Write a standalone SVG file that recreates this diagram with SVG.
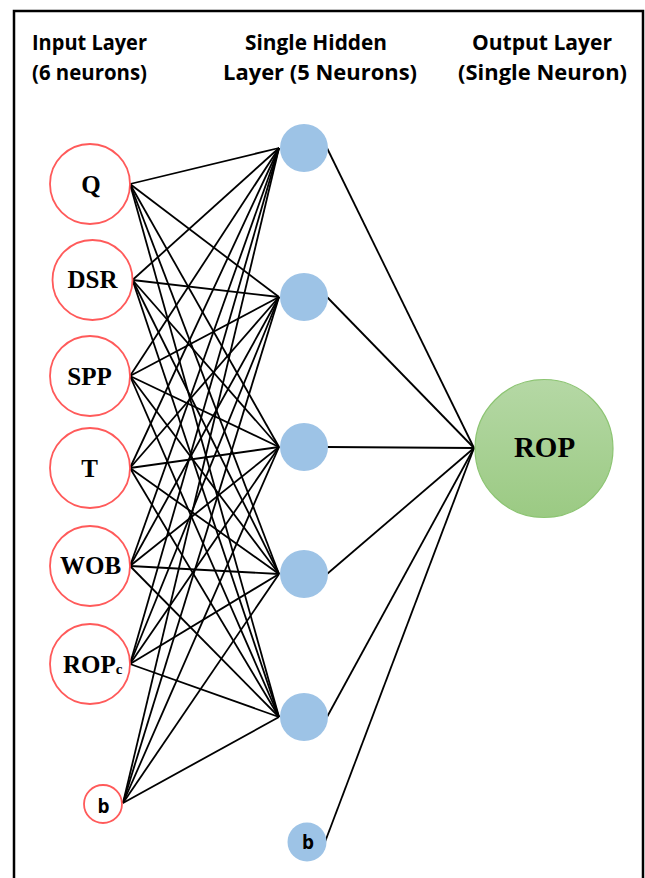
<svg xmlns="http://www.w3.org/2000/svg" width="645" height="878" viewBox="0 0 645 878">
<style>
.hdr{font-family:"Open Sans","Liberation Sans",sans-serif;font-weight:bold;font-size:21px;fill:#000}
.inp{fill:#fff;stroke:#ff5a5a;stroke-width:1.8}
.hid{fill:#9dc3e6}
.lbl{font-family:"Liberation Serif","Times New Roman",serif;font-weight:bold;font-size:25px;fill:#000;text-anchor:middle}
.blbl{font-family:"Open Sans","Liberation Sans",sans-serif;font-weight:bold;font-size:19px;fill:#000;text-anchor:middle}
.conn line{stroke:#000;stroke-width:1.8}
</style>
<defs>
<linearGradient id="gOut" x1="0" y1="0" x2="0" y2="1">
<stop offset="0" stop-color="#b5d8a5"/>
<stop offset="1" stop-color="#9bca83"/>
</linearGradient>
</defs>
<rect width="645" height="878" fill="#fff"/>
<path d="M14,878 V11 H643 V878" fill="none" stroke="#000" stroke-width="2.5"/>
<g id="headers">
<text class="hdr" x="32" y="50" textLength="115" lengthAdjust="spacingAndGlyphs">Input Layer</text>
<text class="hdr" x="32" y="80" textLength="115" lengthAdjust="spacingAndGlyphs">(6 neurons)</text>
<text class="hdr" x="245" y="50" textLength="142" lengthAdjust="spacingAndGlyphs">Single Hidden</text>
<text class="hdr" x="223" y="80" textLength="194" lengthAdjust="spacingAndGlyphs">Layer (5 Neurons)</text>
<text class="hdr" x="472" y="50" textLength="140" lengthAdjust="spacingAndGlyphs">Output Layer</text>
<text class="hdr" x="458" y="80" textLength="169" lengthAdjust="spacingAndGlyphs">(Single Neuron)</text>
</g>
<g id="connectors" class="conn">
<line x1="130" y1="184" x2="279" y2="148"/><line x1="130" y1="184" x2="279" y2="297"/><line x1="130" y1="184" x2="279" y2="447"/><line x1="130" y1="184" x2="279" y2="574"/><line x1="130" y1="184" x2="279" y2="717"/>
<line x1="132.5" y1="280" x2="279" y2="148"/><line x1="132.5" y1="280" x2="279" y2="297"/><line x1="132.5" y1="280" x2="279" y2="447"/><line x1="132.5" y1="280" x2="279" y2="574"/><line x1="132.5" y1="280" x2="279" y2="717"/>
<line x1="130" y1="376" x2="279" y2="148"/><line x1="130" y1="376" x2="279" y2="297"/><line x1="130" y1="376" x2="279" y2="447"/><line x1="130" y1="376" x2="279" y2="574"/><line x1="130" y1="376" x2="279" y2="717"/>
<line x1="130" y1="468" x2="279" y2="148"/><line x1="130" y1="468" x2="279" y2="297"/><line x1="130" y1="468" x2="279" y2="447"/><line x1="130" y1="468" x2="279" y2="574"/><line x1="130" y1="468" x2="279" y2="717"/>
<line x1="130" y1="566" x2="279" y2="148"/><line x1="130" y1="566" x2="279" y2="297"/><line x1="130" y1="566" x2="279" y2="447"/><line x1="130" y1="566" x2="279" y2="574"/><line x1="130" y1="566" x2="279" y2="717"/>
<line x1="130" y1="664" x2="279" y2="148"/><line x1="130" y1="664" x2="279" y2="297"/><line x1="130" y1="664" x2="279" y2="447"/><line x1="130" y1="664" x2="279" y2="574"/><line x1="130" y1="664" x2="279" y2="717"/>
<line x1="123" y1="803" x2="279" y2="148"/><line x1="123" y1="803" x2="279" y2="297"/><line x1="123" y1="803" x2="279" y2="447"/><line x1="123" y1="803" x2="279" y2="574"/><line x1="123" y1="803" x2="279" y2="717"/>
<line x1="327" y1="148" x2="474" y2="448"/><line x1="327" y1="297" x2="474" y2="448"/><line x1="327" y1="447" x2="474" y2="448"/><line x1="327" y1="574" x2="474" y2="448"/><line x1="327" y1="717" x2="474" y2="448"/><line x1="325" y1="842" x2="474" y2="448"/>
</g>
<g id="in-Q"><circle class="inp" cx="90" cy="184" r="40"/><text class="lbl" x="91" y="193">Q</text></g>
<g id="in-DSR"><circle class="inp" cx="92.5" cy="280" r="40"/><text class="lbl" x="92.5" y="288">DSR</text></g>
<g id="in-SPP"><circle class="inp" cx="90" cy="376" r="40"/><text class="lbl" x="89.5" y="385">SPP</text></g>
<g id="in-T"><circle class="inp" cx="90" cy="468" r="40"/><text class="lbl" x="89.5" y="477">T</text></g>
<g id="in-WOB"><circle class="inp" cx="90" cy="566" r="40"/><text class="lbl" x="90.5" y="574">WOB</text></g>
<g id="in-ROPc"><circle class="inp" cx="90" cy="664" r="40"/><text class="lbl" x="63" y="673" style="text-anchor:start">ROP<tspan font-size="15" dy="1">c</tspan></text></g>
<g id="in-bias"><circle class="inp" cx="103" cy="804" r="19"/><text class="blbl" x="103.5" y="813">b</text></g>
<g id="h1"><circle class="hid" cx="304" cy="148" r="24"/></g>
<g id="h2"><circle class="hid" cx="304" cy="297" r="24"/></g>
<g id="h3"><circle class="hid" cx="304" cy="447" r="24"/></g>
<g id="h4"><circle class="hid" cx="304" cy="574" r="24"/></g>
<g id="h5"><circle class="hid" cx="304" cy="717" r="24"/></g>
<g id="h-bias"><circle class="hid" cx="307" cy="842" r="19.5"/><text class="blbl" x="308" y="849">b</text></g>
<g id="out-ROP"><circle cx="544" cy="448.5" r="69" fill="url(#gOut)" stroke="#8cc472" stroke-width="1.2"/><text class="lbl" x="544.5" y="457" style="font-size:29px">ROP</text></g>
</svg>
